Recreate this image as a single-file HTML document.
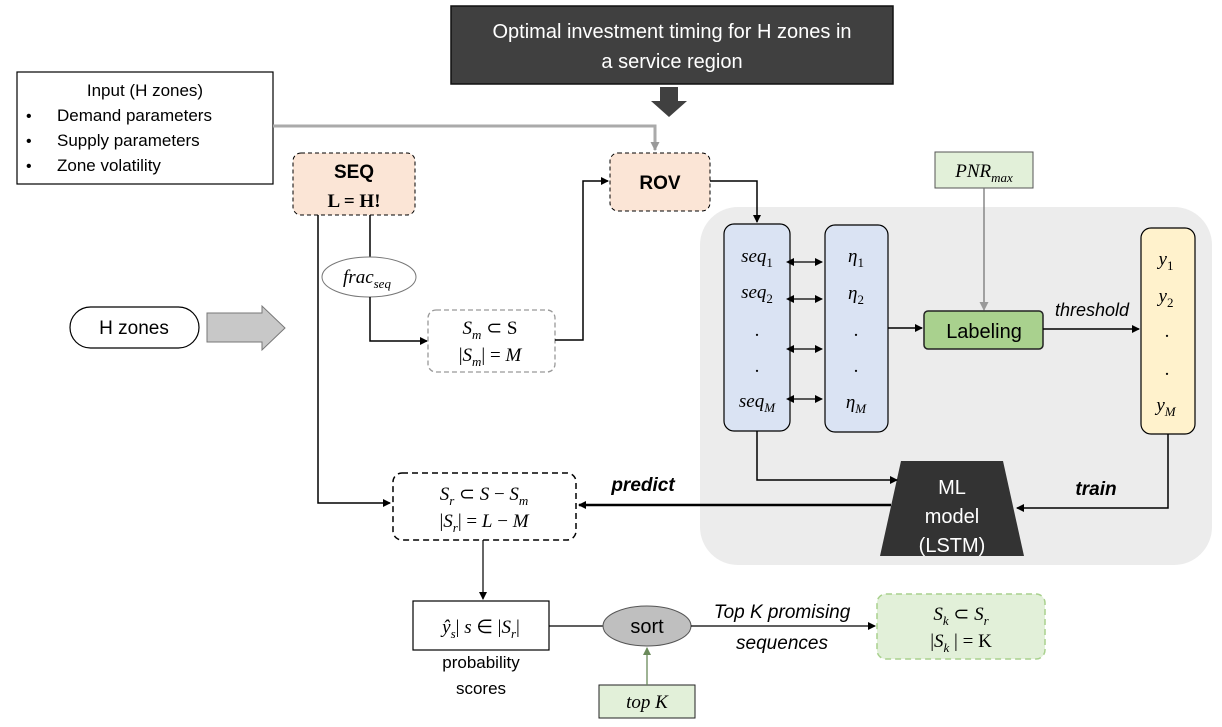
<!DOCTYPE html>
<html><head><meta charset="utf-8"><style>
html,body{margin:0;padding:0;background:#fff;}
svg{display:block;}
text{font-family:"Liberation Sans",sans-serif;}
.m{font-family:"Liberation Serif",serif;font-style:italic;}
.r{font-family:"Liberation Serif",serif;}
</style></head><body>
<svg width="1222" height="727" viewBox="0 0 1222 727" xmlns="http://www.w3.org/2000/svg">
<defs>
<marker id="a" markerWidth="8" markerHeight="8" refX="7" refY="4" orient="auto" markerUnits="userSpaceOnUse"><path d="M0,0 L8,4 L0,8 z" fill="#000"/></marker>
<marker id="as" markerWidth="8" markerHeight="8" refX="1" refY="4" orient="auto-start-reverse" markerUnits="userSpaceOnUse"><path d="M0,0 L8,4 L0,8 z" fill="#000"/></marker>
<marker id="ag" markerWidth="9" markerHeight="9" refX="8" refY="4.5" orient="auto" markerUnits="userSpaceOnUse"><path d="M0,0 L9,4.5 L0,9 z" fill="#999"/></marker>
<marker id="agr" markerWidth="8" markerHeight="8" refX="7" refY="4" orient="auto" markerUnits="userSpaceOnUse"><path d="M0,0 L8,4 L0,8 z" fill="#6a8a5a"/></marker>
</defs>

<!-- gray panel -->
<rect x="700" y="207" width="512" height="358" rx="38" fill="#ececec"/>

<!-- top box -->
<rect x="451" y="6" width="442" height="78" fill="#404040" stroke="#111" stroke-width="1.5"/>
<text x="672" y="38" font-size="20" fill="#fff" text-anchor="middle">Optimal investment timing for H zones in</text>
<text x="672" y="68" font-size="20" fill="#fff" text-anchor="middle">a service region</text>
<path d="M660,87 H678 V101 H687 L669,117 L651,101 H660 Z" fill="#404040"/>

<!-- input box -->
<rect x="17" y="72" width="256" height="112" fill="#fff" stroke="#000" stroke-width="1.2"/>
<text x="145" y="96" font-size="17" text-anchor="middle">Input (H zones)</text>
<text x="26" y="121" font-size="16">•</text><text x="57" y="121" font-size="17">Demand parameters</text>
<text x="26" y="146" font-size="16">•</text><text x="57" y="146" font-size="17">Supply parameters</text>
<text x="26" y="171" font-size="16">•</text><text x="57" y="171" font-size="17">Zone volatility</text>
<path d="M273,126 H655 V150" fill="none" stroke="#aaa" stroke-width="3" marker-end="url(#ag)"/>

<!-- SEQ -->
<rect x="293" y="153" width="122" height="62" rx="8" fill="#fbe5d6" stroke="#000" stroke-dasharray="4,3"/>
<text x="354" y="178" font-size="19" font-weight="bold" text-anchor="middle">SEQ</text>
<text x="354" y="207" font-size="19" font-weight="bold" text-anchor="middle" class="r">L = H!</text>

<!-- ROV -->
<rect x="610" y="153" width="100" height="58" rx="8" fill="#fbe5d6" stroke="#000" stroke-dasharray="4,3"/>
<text x="660" y="189" font-size="19" font-weight="bold" text-anchor="middle">ROV</text>

<!-- SEQ lines -->
<path d="M318,215 V503 H390" fill="none" stroke="#000" stroke-width="1.5" marker-end="url(#a)"/>
<line x1="370" y1="215" x2="370" y2="257" stroke="#000" stroke-width="1.5"/>
<ellipse cx="369" cy="277" rx="47" ry="20" fill="#fff" stroke="#777"/>
<text x="367" y="283" font-size="19" class="m" text-anchor="middle">frac<tspan font-size="13" dy="5">seq</tspan></text>
<path d="M370,297 V341 H427" fill="none" stroke="#000" stroke-width="1.5" marker-end="url(#a)"/>

<!-- Sm -->
<rect x="428" y="310" width="127" height="62" rx="8" fill="#fff" stroke="#999" stroke-dasharray="5,3" stroke-width="1.3"/>
<text x="490" y="334" font-size="19" class="r" text-anchor="middle"><tspan font-style="italic">S<tspan font-size="13" dy="5">m</tspan></tspan><tspan dy="-5"> ⊂ S</tspan></text>
<text x="490" y="361" font-size="19" class="r" text-anchor="middle">|<tspan font-style="italic">S<tspan font-size="13" dy="5">m</tspan></tspan><tspan dy="-5">| = </tspan><tspan font-style="italic">M</tspan></text>
<path d="M555,340 H583 V181 H608" fill="none" stroke="#000" stroke-width="1.5" marker-end="url(#a)"/>
<path d="M710,181 H757 V222" fill="none" stroke="#000" stroke-width="1.5" marker-end="url(#a)"/>

<!-- H zones -->
<rect x="70" y="307" width="129" height="41" rx="20.5" fill="#fff" stroke="#000" stroke-width="1.2"/>
<text x="134" y="334" font-size="19" text-anchor="middle">H zones</text>
<path d="M207,313 H262 V306 L285,328 L262,350 V342 H207 Z" fill="#c8c8c8" stroke="#777"/>

<!-- seq box -->
<rect x="724" y="224" width="66" height="207" rx="10" fill="#dae3f3" stroke="#000" stroke-width="1.2"/>
<text x="757" y="262" font-size="19" class="m" text-anchor="middle">seq<tspan font-size="13" dy="5" font-style="normal">1</tspan></text>
<text x="757" y="298" font-size="19" class="m" text-anchor="middle">seq<tspan font-size="13" dy="5" font-style="normal">2</tspan></text>
<text x="757" y="336" font-size="19" class="r" text-anchor="middle">.</text>
<text x="757" y="372" font-size="19" class="r" text-anchor="middle">.</text>
<text x="757" y="407" font-size="19" class="m" text-anchor="middle">seq<tspan font-size="13" dy="5">M</tspan></text>

<!-- eta box -->
<rect x="825" y="225" width="63" height="207" rx="10" fill="#dae3f3" stroke="#000" stroke-width="1.2"/>
<text x="856" y="262" font-size="19" class="m" text-anchor="middle">η<tspan font-size="13" dy="5" font-style="normal">1</tspan></text>
<text x="856" y="299" font-size="19" class="m" text-anchor="middle">η<tspan font-size="13" dy="5" font-style="normal">2</tspan></text>
<text x="856" y="336" font-size="19" class="r" text-anchor="middle">.</text>
<text x="856" y="372" font-size="19" class="r" text-anchor="middle">.</text>
<text x="856" y="408" font-size="19" class="m" text-anchor="middle">η<tspan font-size="13" dy="5">M</tspan></text>

<g stroke="#000" stroke-width="1.3">
<line x1="793" y1="262" x2="822" y2="262" marker-start="url(#as)" marker-end="url(#a)"/>
<line x1="793" y1="299" x2="822" y2="299" marker-start="url(#as)" marker-end="url(#a)"/>
<line x1="793" y1="349" x2="822" y2="349" marker-start="url(#as)" marker-end="url(#a)"/>
<line x1="793" y1="399" x2="822" y2="399" marker-start="url(#as)" marker-end="url(#a)"/>
</g>
<line x1="888" y1="328" x2="922" y2="328" stroke="#000" stroke-width="1.5" marker-end="url(#a)"/>

<!-- PNR -->
<rect x="935" y="152" width="98" height="36" fill="#e2f0d9" stroke="#555"/>
<text x="984" y="177" font-size="19" class="m" text-anchor="middle">PNR<tspan font-size="13" dy="5">max</tspan></text>
<line x1="984" y1="188" x2="984" y2="310" stroke="#777" stroke-width="1.3" marker-end="url(#ag)"/>

<!-- Labeling -->
<rect x="924" y="311" width="119" height="38" rx="4" fill="#a9d18e" stroke="#222" stroke-width="1.5"/>
<text x="984" y="338" font-size="20" text-anchor="middle">Labeling</text>
<text x="1092" y="316" font-size="18" font-style="italic" text-anchor="middle">threshold</text>
<line x1="1043" y1="329" x2="1139" y2="329" stroke="#000" stroke-width="1.5" marker-end="url(#a)"/>

<!-- y box -->
<rect x="1141" y="228" width="54" height="206" rx="10" fill="#fff2cc" stroke="#000" stroke-width="1.2"/>
<text x="1166" y="265" font-size="19" class="m" text-anchor="middle">y<tspan font-size="13" dy="5" font-style="normal">1</tspan></text>
<text x="1166" y="302" font-size="19" class="m" text-anchor="middle">y<tspan font-size="13" dy="5" font-style="normal">2</tspan></text>
<text x="1167" y="337" font-size="19" class="r" text-anchor="middle">.</text>
<text x="1167" y="375" font-size="19" class="r" text-anchor="middle">.</text>
<text x="1166" y="411" font-size="19" class="m" text-anchor="middle">y<tspan font-size="13" dy="5">M</tspan></text>

<!-- ML model -->
<path d="M901,461 H1003 L1024,556 H880 Z" fill="#333"/>
<text x="952" y="494" font-size="20" fill="#fff" text-anchor="middle">ML</text>
<text x="952" y="523" font-size="20" fill="#fff" text-anchor="middle">model</text>
<text x="952" y="552" font-size="20" fill="#fff" text-anchor="middle">(LSTM)</text>
<path d="M757,431 V480 H897" fill="none" stroke="#000" stroke-width="1.5" marker-end="url(#a)"/>
<path d="M1168,434 V508 H1017" fill="none" stroke="#000" stroke-width="1.5" marker-end="url(#a)"/>
<text x="1096" y="495" font-size="19" font-weight="bold" font-style="italic" text-anchor="middle">train</text>
<line x1="891" y1="505" x2="579" y2="505" stroke="#000" stroke-width="2.5" marker-end="url(#a)"/>
<text x="643" y="491" font-size="19" font-weight="bold" font-style="italic" text-anchor="middle">predict</text>

<!-- Sr -->
<rect x="393" y="473" width="183" height="67" rx="9" fill="#fff" stroke="#000" stroke-width="1.5" stroke-dasharray="6,4"/>
<text x="484" y="500" font-size="19" class="r" text-anchor="middle"><tspan font-style="italic">S<tspan font-size="13" dy="5">r</tspan></tspan><tspan dy="-5"> ⊂ </tspan><tspan font-style="italic">S</tspan> − <tspan font-style="italic">S<tspan font-size="13" dy="5">m</tspan></tspan></text>
<text x="484" y="527" font-size="19" class="r" text-anchor="middle">|<tspan font-style="italic">S<tspan font-size="13" dy="5">r</tspan></tspan><tspan dy="-5">| = </tspan><tspan font-style="italic">L</tspan> − <tspan font-style="italic">M</tspan></text>
<line x1="483" y1="540" x2="483" y2="599" stroke="#000" stroke-width="1.2" marker-end="url(#a)"/>

<!-- y hat box -->
<rect x="413" y="601" width="136" height="49" fill="#fff" stroke="#000" stroke-width="1.2"/>
<text x="481" y="633" font-size="19" class="r" text-anchor="middle"><tspan font-style="italic">ŷ<tspan font-size="13" dy="5">s</tspan></tspan><tspan dy="-5">| </tspan><tspan font-style="italic">s</tspan> ∈ |<tspan font-style="italic">S<tspan font-size="13" dy="5">r</tspan></tspan><tspan dy="-5">|</tspan></text>
<text x="481" y="668" font-size="17" text-anchor="middle">probability</text>
<text x="481" y="694" font-size="17" text-anchor="middle">scores</text>
<line x1="549" y1="626" x2="604" y2="626" stroke="#000" stroke-width="1.2"/>

<!-- sort -->
<ellipse cx="647" cy="626" rx="44" ry="20" fill="#bfbfbf" stroke="#555"/>
<text x="647" y="633" font-size="20" text-anchor="middle">sort</text>
<line x1="691" y1="626" x2="875" y2="626" stroke="#000" stroke-width="1.2" marker-end="url(#a)"/>
<text x="782" y="618" font-size="19" font-style="italic" text-anchor="middle">Top K promising</text>
<text x="782" y="649" font-size="19" font-style="italic" text-anchor="middle">sequences</text>

<!-- Sk -->
<rect x="877" y="594" width="168" height="65" rx="9" fill="#e2f0d9" stroke="#a9d18e" stroke-width="1.5" stroke-dasharray="6,4"/>
<text x="961" y="620" font-size="19" class="r" text-anchor="middle"><tspan font-style="italic">S<tspan font-size="13" dy="5">k</tspan></tspan><tspan dy="-5"> ⊂ </tspan><tspan font-style="italic">S<tspan font-size="13" dy="5">r</tspan></tspan></text>
<text x="961" y="647" font-size="19" class="r" text-anchor="middle">|<tspan font-style="italic">S<tspan font-size="13" dy="5">k</tspan></tspan><tspan dy="-5"> | = K</tspan></text>

<!-- top K -->
<rect x="599" y="685" width="96" height="33" fill="#e2f0d9" stroke="#222"/>
<text x="647" y="708" font-size="19" class="m" text-anchor="middle">top K</text>
<line x1="647" y1="685" x2="647" y2="648" stroke="#6a8a5a" stroke-width="1.3" marker-end="url(#agr)"/>
</svg>
</body></html>
